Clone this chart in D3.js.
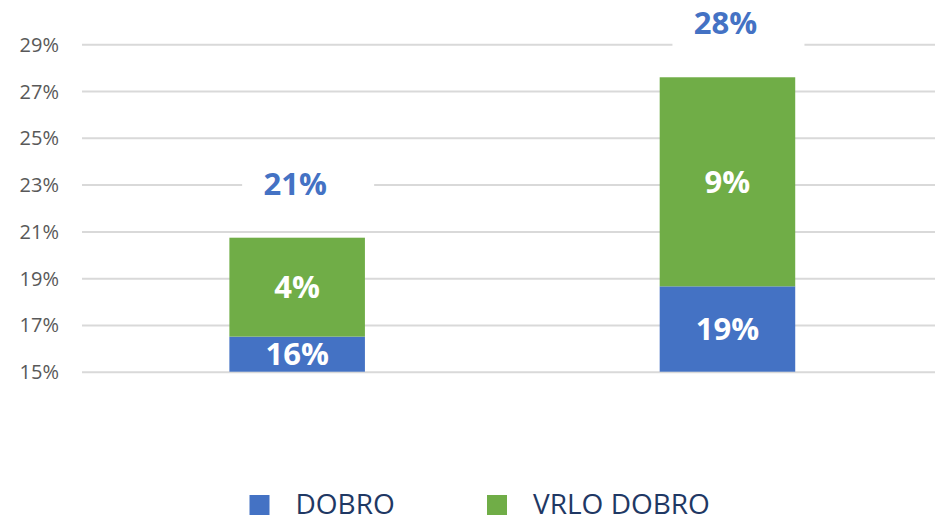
<!DOCTYPE html>
<html>
<head>
<meta charset="utf-8">
<script src="https://cdn.jsdelivr.net/npm/d3@7"></script>
<style>
  body { margin: 0; background: #fff; }
  svg { display: block; font-family: "Open Sans", "Noto Sans", sans-serif; }
</style>
</head>
<body>
<div id="chart"></div>
<script>
// data
var categories = ["A", "B"];
var dobro = [16.5, 18.65];
var vrloDobro = [4.23, 8.94];
var dobroLabels = ["16%", "19%"];
var vrloLabels = ["4%", "9%"];
var totalLabels = ["21%", "28%"];
var seriesNames = ["DOBRO", "VRLO DOBRO"];
var seriesColors = ["#4472C4", "#70AD47"];
var yTicks = [15, 17, 19, 21, 23, 25, 27, 29];
var yMin = 15;

var svgWidth = 935;
var svgHeight = 524;

var svg = d3.select("#chart")
  .append("svg")
  .attr("width", svgWidth)
  .attr("height", svgHeight);

// scales
var xScale = d3.scaleBand()
  .domain(categories)
  .range([82, 942.6])
  .padding(0);

var yScale = d3.scaleLinear()
  .domain([yMin, 29])
  .range([371.7, 44.3]);

var barFrac = 0.315;
var bw = xScale.bandwidth() * barFrac;
function barX(c) {
  return xScale(c) + (xScale.bandwidth() - bw) / 2;
}
function barCenter(c) {
  return xScale(c) + xScale.bandwidth() / 2;
}
// bars start at the axis minimum
function yv(v) {
  return yScale(Math.max(v, yMin));
}

// gridlines + tick labels via axis
var yAxis = d3.axisLeft(yScale)
  .tickValues(yTicks)
  .tickSize(-(svgWidth - 82))
  .tickFormat(d => d + "%");

var axisG = svg.append("g")
  .attr("transform", "translate(82,0)")
  .call(yAxis);

axisG.select(".domain").remove();
axisG.selectAll(".tick line")
  .attr("stroke", "#d9d9d9")
  .attr("stroke-width", 2);
axisG.selectAll(".tick text")
  .attr("x", -23)
  .attr("dy", "0.35em")
  .attr("fill", "#595959")
  .attr("font-size", "20px")
  .attr("font-family", "'Open Sans', sans-serif");

// stacked data
var rows = categories.map(function(c, i) {
  return { cat: c, dobro: dobro[i], vrlo: vrloDobro[i] };
});
var stack = d3.stack().keys(["dobro", "vrlo"]);
var stacked = stack(rows);

var layers = svg.append("g").selectAll("g")
  .data(stacked)
  .enter()
  .append("g")
  .attr("fill", (d, i) => seriesColors[i]);

layers.selectAll("rect")
  .data(d => d)
  .enter()
  .append("rect")
  .attr("x", d => barX(d.data.cat))
  .attr("width", bw)
  .attr("y", d => yv(d[1]))
  .attr("height", d => yv(d[0]) - yv(d[1]));

// segment labels
var segLabels = [dobroLabels, vrloLabels];
stacked.forEach(function(layer, li) {
  svg.append("g").selectAll("text")
    .data(layer)
    .enter()
    .append("text")
    .attr("x", d => barCenter(d.data.cat))
    .attr("y", d => (yv(d[0]) + yv(d[1])) / 2)
    .attr("dy", "0.36em")
    .attr("text-anchor", "middle")
    .attr("fill", "#fff")
    .attr("font-weight", "bold")
    .attr("font-size", "31px")
    .text((d, i) => segLabels[li][i]);
});

// total labels with white boxes over the gridlines
var totalsG = svg.append("g");
rows.forEach(function(r, i) {
  var cx = barCenter(r.cat) - 2;
  var base = yScale(r.dobro + r.vrlo) - 43;
  totalsG.append("rect")
    .attr("x", cx - 53)
    .attr("y", base - 32)
    .attr("width", 132)
    .attr("height", 44)
    .attr("fill", "#fff");
  totalsG.append("text")
    .attr("x", cx)
    .attr("y", base)
    .attr("text-anchor", "middle")
    .attr("fill", "#4472C4")
    .attr("font-weight", "bold")
    .attr("font-size", "31px")
    .text(totalLabels[i]);
});

// legend
var legendX = [249.5, 487];
var legend = svg.append("g").selectAll("g")
  .data(seriesNames)
  .enter()
  .append("g")
  .attr("transform", (d, i) => `translate(${legendX[i]}, 495)`);

legend.append("rect")
  .attr("width", 20)
  .attr("height", 20)
  .attr("fill", (d, i) => seriesColors[i]);

legend.append("text")
  .attr("x", 46)
  .attr("y", 19)
  .attr("fill", "#1F3864")
  .attr("font-size", "28px")
  .text(d => d);
</script>
</body>
</html>
